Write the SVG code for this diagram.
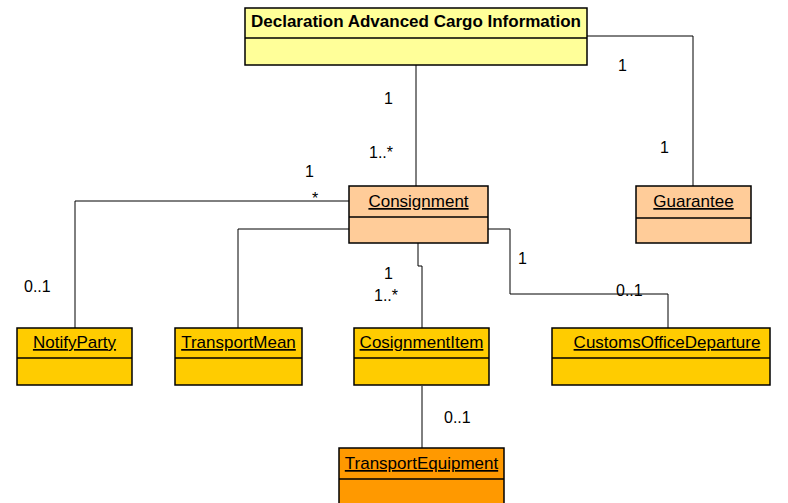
<svg xmlns="http://www.w3.org/2000/svg" width="788" height="503" viewBox="0 0 788 503">
<style>
.box{stroke:#000;stroke-width:1.5}
.div{stroke:#000;stroke-width:1.5}
.name{font-family:"Liberation Sans",Arial,sans-serif;font-size:17px;text-anchor:middle;text-decoration:underline;fill:#000}
.title{font-family:"Liberation Sans",Arial,sans-serif;font-size:17px;font-weight:bold;text-anchor:middle;fill:#000}
.lbl{font-family:"Liberation Sans",Arial,sans-serif;font-size:16px;fill:#000}
.conn{fill:none;stroke:#000;stroke-width:1}
</style>
<rect width="788" height="503" fill="#fff"/>
<g id="connectors">
<polyline class="conn" points="416,65 416,186"/>
<polyline class="conn" points="587,36 693,36 693,186"/>
<polyline class="conn" points="349,201 75,201 75,328"/>
<polyline class="conn" points="349,229 238,229 238,328"/>
<polyline class="conn" points="418,243 418,266 422,266 422,328"/>
<polyline class="conn" points="488,229 510,229 510,294 668,294 668,328"/>
<polyline class="conn" points="422,386 422,448"/>
</g>
<g id="labels">
<text class="lbl" x="384" y="104">1</text>
<text class="lbl" x="369" y="158">1..*</text>
<text class="lbl" x="305" y="177">1</text>
<text class="lbl" x="312" y="204">*</text>
<text class="lbl" x="24" y="292">0..1</text>
<text class="lbl" x="384" y="279">1</text>
<text class="lbl" x="374" y="301">1..*</text>
<text class="lbl" x="518" y="264">1</text>
<text class="lbl" x="616" y="296">0..1</text>
<text class="lbl" x="444" y="423">0..1</text>
<text class="lbl" x="618" y="71">1</text>
<text class="lbl" x="660" y="153">1</text>
</g>
<g id="declaration">
<rect class="box" x="245" y="8" width="342" height="57" fill="#FFFF99"/>
<line class="div" x1="245" y1="38" x2="587" y2="38"/>
<text class="title" x="416" y="27">Declaration Advanced Cargo Information</text>
</g>
<g id="consignment">
<rect class="box" x="349" y="186" width="139" height="57" fill="#FFCC99"/>
<line class="div" x1="349" y1="217" x2="488" y2="217"/>
<text class="name" x="418.5" y="207">Consignment</text>
</g>
<g id="guarantee">
<rect class="box" x="636" y="186" width="115" height="57" fill="#FFCC99"/>
<line class="div" x1="636" y1="218" x2="751" y2="218"/>
<text class="name" x="693.5" y="207">Guarantee</text>
</g>
<g id="notifyparty">
<rect class="box" x="17" y="328" width="115" height="57" fill="#FFCC00"/>
<line class="div" x1="17" y1="358" x2="132" y2="358"/>
<text class="name" x="74.5" y="348">NotifyParty</text>
</g>
<g id="transportmean">
<rect class="box" x="175" y="328" width="127" height="57" fill="#FFCC00"/>
<line class="div" x1="175" y1="358" x2="302" y2="358"/>
<text class="name" x="238.5" y="348">TransportMean</text>
</g>
<g id="cosignmentitem">
<rect class="box" x="354" y="328" width="135" height="57" fill="#FFCC00"/>
<line class="div" x1="354" y1="358" x2="489" y2="358"/>
<text class="name" x="421.5" y="348">CosignmentItem</text>
</g>
<g id="customsofficedeparture">
<rect class="box" x="552" y="328" width="218" height="57" fill="#FFCC00"/>
<line class="div" x1="552" y1="358" x2="770" y2="358"/>
<text class="name" x="667" y="348">CustomsOfficeDeparture</text>
</g>
<g id="transportequipment">
<rect class="box" x="339" y="448" width="165" height="60" fill="#FF9900"/>
<line class="div" x1="339" y1="479" x2="504" y2="479"/>
<text class="name" x="421.5" y="469">TransportEquipment</text>
</g>
</svg>
